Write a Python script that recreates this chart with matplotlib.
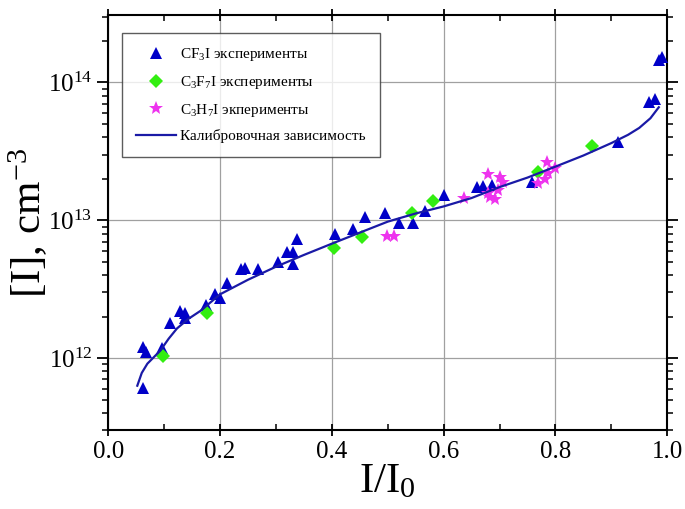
import numpy as np
import matplotlib
matplotlib.use('Agg')
import matplotlib.pyplot as plt
from matplotlib.ticker import MultipleLocator, LogLocator

plt.rcParams['font.family'] = ['Liberation Serif', 'DejaVu Serif']
plt.rcParams['mathtext.fontset'] = 'custom'
plt.rcParams['mathtext.rm'] = 'Liberation Serif'
plt.rcParams['mathtext.it'] = 'Liberation Serif:italic'
plt.rcParams['mathtext.bf'] = 'Liberation Serif:bold'

#------------------------------------------------------------------------------
# Data
#------------------------------------------------------------------------------

# CF3I experiments
cf3i_x = [0.063, 0.062, 0.068, 0.097, 0.111, 0.129, 0.138, 0.138, 0.175, 0.191,
          0.200, 0.213, 0.238, 0.245, 0.268, 0.304, 0.320, 0.331, 0.331, 0.338,
          0.406, 0.438, 0.460, 0.496, 0.521, 0.546, 0.567, 0.601, 0.660, 0.671,
          0.687, 0.758, 0.912, 0.968, 0.979, 0.986, 0.991]
cf3i_y = [6.1e11, 1.2e12, 1.1e12, 1.19e12, 1.81e12, 2.21e12, 2.14e12, 1.94e12, 2.41e12, 2.94e12,
          2.71e12, 3.48e12, 4.4e12, 4.48e12, 4.4e12, 4.96e12, 5.85e12, 5.85e12, 4.78e12, 7.3e12,
          8.0e12, 8.7e12, 1.05e13, 1.12e13, 9.5e12, 9.5e12, 1.16e13, 1.52e13, 1.74e13, 1.77e13,
          1.8e13, 1.89e13, 3.69e13, 7.2e13, 7.6e13, 1.46e14, 1.53e14]

# C3F7I experiments
c3f7i_x = [0.098, 0.177, 0.404, 0.454, 0.544, 0.581, 0.769, 0.866]
c3f7i_y = [1.03e12, 2.11e12, 6.25e12, 7.5e12, 1.12e13, 1.37e13, 2.23e13, 3.45e13]

# C3H7I experiments
c3h7i_x = [0.499, 0.512, 0.637, 0.680, 0.700, 0.683, 0.692, 0.698, 0.707, 0.680,
           0.785, 0.769, 0.782, 0.787, 0.800]
c3h7i_y = [7.65e12, 7.65e12, 1.44e13, 2.16e13, 2.06e13, 1.47e13, 1.42e13, 1.65e13, 1.89e13, 1.57e13,
           2.63e13, 1.86e13, 1.99e13, 2.2e13, 2.39e13]

# calibration curve
calib_x = [0.052, 0.060, 0.070, 0.080, 0.093, 0.108, 0.123, 0.143, 0.165, 0.200,
           0.250, 0.300, 0.350, 0.400, 0.450, 0.500, 0.550, 0.600, 0.650, 0.700,
           0.750, 0.800, 0.850, 0.900, 0.930, 0.950, 0.970, 0.985]
calib_y = [6.3e11, 7.8e11, 9.1e11, 1.0e12, 1.13e12, 1.38e12, 1.64e12, 1.92e12, 2.2e12, 2.9e12,
           3.7e12, 4.6e12, 5.6e12, 6.76e12, 8.13e12, 9.77e12, 1.12e13, 1.26e13, 1.45e13, 1.74e13,
           2.04e13, 2.45e13, 2.95e13, 3.63e13, 4.17e13, 4.68e13, 5.50e13, 6.61e13]

#------------------------------------------------------------------------------
# Plot
#------------------------------------------------------------------------------

fig = plt.figure(figsize=(6.85, 5.09), dpi=100)
ax = fig.add_axes([0.158, 0.155, 0.816, 0.816])

ax.plot(cf3i_x, cf3i_y, '^', color='#0000c8', markersize=9, markeredgewidth=0,
        label='CF$_3$I эксперименты', zorder=3)
ax.plot(c3f7i_x, c3f7i_y, 'D', color='#33ee11', markersize=7, markeredgewidth=0,
        label='C$_3$F$_7$I эксперименты', zorder=3)
ax.plot(c3h7i_x, c3h7i_y, '*', color='#ee33ee', markersize=10, markeredgewidth=0,
        label='C$_3$H$_7$I экперименты', zorder=3)
ax.plot(calib_x, calib_y, '-', color='#1a1aa6', linewidth=1.6,
        label='Калибровочная зависимость', zorder=4)

ax.set_yscale('log')
ax.set_xlim(0, 1.0)
ax.set_ylim(3e11, 3.1e14)

ax.xaxis.set_major_locator(MultipleLocator(0.2))
ax.xaxis.set_minor_locator(MultipleLocator(0.1))
ax.yaxis.set_major_locator(LogLocator(base=10, numticks=10))
ax.yaxis.set_minor_locator(LogLocator(base=10, subs=np.arange(2, 10), numticks=10))
ax.xaxis.set_major_formatter(plt.FuncFormatter(lambda v, p: '%.1f' % v))

ax.grid(True, which='major', color='#a0a0a0', linewidth=0.9)
ax.set_axisbelow(True)

for s in ax.spines.values():
    s.set_linewidth(1.5)

ax.tick_params(axis='both', which='major', direction='inout', length=8, width=1.3,
               labelsize=18, top=True, right=True)
ax.tick_params(axis='both', which='minor', direction='in', length=4, width=1.1,
               top=True, right=True)
ax.tick_params(axis='y', which='both', direction='out')
ax.tick_params(axis='y', which='minor', length=4)

ax.set_xlabel('I/I$_0$', fontsize=31, labelpad=0)
ax.set_ylabel('[I], cm$^{-3}$', fontsize=31, labelpad=-2)

leg = ax.legend(loc='upper left', bbox_to_anchor=(0.025, 0.957), borderaxespad=0,
                fontsize=11, frameon=True, fancybox=False, edgecolor='#333333',
                handlelength=2.6, labelspacing=0.7, borderpad=0.9, handletextpad=0.3)
leg.get_frame().set_linewidth(1.0)

plt.savefig('out.png', dpi=100)
